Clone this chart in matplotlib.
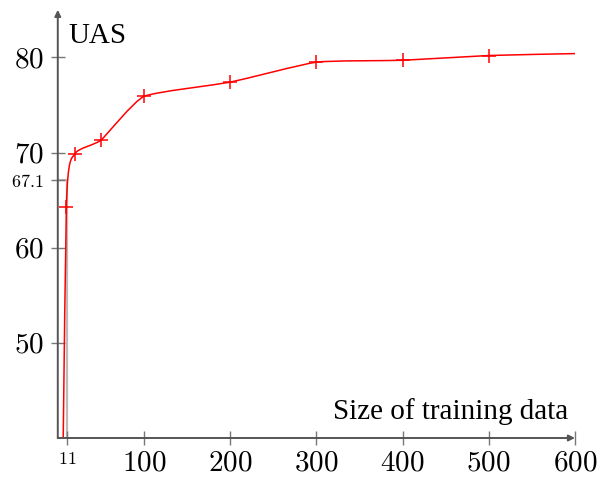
import numpy as np
import matplotlib.pyplot as plt
from matplotlib.path import Path
from matplotlib.patches import PathPatch

plt.rcParams['mathtext.fontset'] = 'cm'
plt.rcParams['font.family'] = ['Liberation Serif', 'DejaVu Serif']

size = [1, 10, 20, 50, 100, 200, 300, 400, 500, 600]
uas = [0.0, 64.3, 69.9, 71.3, 75.9, 77.4, 79.5, 79.7, 80.2, 80.4]
base_size = 11
base_uas = 67.1
xticks = [100, 200, 300, 400, 500, 600]
yticks = [50, 60, 70, 80]

fig = plt.figure(figsize=(6, 4.8), dpi=100)
ax = fig.add_axes([0.0963, 0.0875, 0.862, 0.892])
ax.set_xlim(0, 600)
ax.set_ylim(40, 85)

# helper lines to the baseline point
ax.plot([0, base_size, base_size], [base_uas, base_uas, 40],
        color='#bbbbbb', lw=1.6, zorder=1)

# lightly smoothed curve through the points (bezier, low tension)
pts = np.column_stack([size, uas])
t = 0.08
n = len(pts)
verts = [pts[0]]
codes = [Path.MOVETO]
for i in range(n - 1):
    c1 = pts[i] + t * (pts[i + 1] - pts[i - 1]) if i > 0 else pts[0]
    c2 = pts[i + 1] - t * (pts[i + 2] - pts[i]) if i + 2 < n else pts[-1]
    verts += [c1, c2, pts[i + 1]]
    codes += [Path.CURVE4] * 3
ax.add_patch(PathPatch(Path(verts, codes), fill=False, edgecolor='red',
                       lw=1.1, zorder=3))
ax.plot(size[1:-1], uas[1:-1], '+', color='red', ms=10, mew=1.1, zorder=4)

for s in ['top', 'right', 'left', 'bottom']:
    ax.spines[s].set_visible(False)
axc = '#555555'
ax.annotate('', xy=(1.0, 0), xytext=(0, 0), xycoords='axes fraction',
            arrowprops=dict(arrowstyle='-|>', color=axc, lw=1.4,
                            mutation_scale=9, shrinkA=0, shrinkB=0))
ax.annotate('', xy=(0, 1.0), xytext=(0, 0), xycoords='axes fraction',
            arrowprops=dict(arrowstyle='-|>', color=axc, lw=1.4,
                            mutation_scale=9, shrinkA=0, shrinkB=0))

ax.set_xticks([base_size] + xticks)
ax.set_xticklabels(['$%d$' % base_size] + ['$%d$' % v for v in xticks])
ax.set_yticks([base_uas] + yticks)
ax.set_yticklabels(['$%.1f$' % base_uas] + ['$%d$' % v for v in yticks])
ax.tick_params(direction='inout', length=10, width=1.0, color='#777777',
               labelsize=21)
ax.tick_params(axis='y', pad=5)
ax.tick_params(axis='x', pad=4)
ax.get_xticklabels()[0].set_fontsize(13)
ax.get_yticklabels()[0].set_fontsize(13)

ax.text(0.02, 0.94, 'UAS', transform=ax.transAxes, fontsize=21,
        ha='left', va='center')
ax.text(0.987, 0.061, 'Size of training data', transform=ax.transAxes,
        fontsize=21, ha='right', va='center')

fig.savefig('out.png', dpi=100)
